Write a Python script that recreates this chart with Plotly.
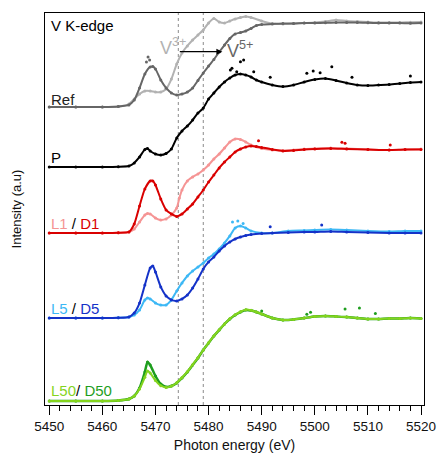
import plotly.graph_objects as go

# ---------------- data (normalised XANES, arbitrary units) ----------------
# Ref: V3+ reference (light grey) and V5+ reference (dark grey)
ref_v3_x = [5450, 5455, 5460, 5463, 5465, 5466, 5467, 5468, 5469, 5470, 5471, 5472, 5473, 5474, 5475,
            5476, 5477, 5478, 5479, 5480, 5481, 5482, 5483, 5484, 5485, 5486, 5487, 5488, 5490, 5492,
            5494, 5496, 5498, 5500, 5502, 5504, 5506, 5508, 5510, 5512, 5514, 5516, 5518, 5520]
ref_v3_y = [0.0, 0.0, 0.0, 0.006, 0.035, 0.094, 0.153, 0.188, 0.188, 0.176, 0.176, 0.212, 0.329, 0.506, 0.635,
            0.718, 0.788, 0.847, 0.906, 0.988, 1.041, 1.0, 0.988, 1.012, 1.035, 1.053, 1.065, 1.053, 1.012, 0.982,
            0.976, 0.982, 0.988, 0.994, 1.006, 1.024, 1.012, 1.006, 1.0, 0.994, 0.994, 0.994, 0.998, 1.0]

ref_v5_x = [5450, 5455, 5460, 5463, 5465, 5466, 5467, 5468, 5469, 5469.5, 5470, 5471, 5472, 5473, 5474,
            5475, 5476, 5477, 5478, 5479, 5480, 5481, 5482, 5483, 5484, 5485, 5486, 5487, 5488, 5489,
            5490, 5492, 5494, 5496, 5498, 5500, 5502, 5504, 5506, 5508, 5510, 5512, 5514, 5516, 5518, 5520]
ref_v5_y = [0.0, 0.0, 0.0, 0.006, 0.024, 0.082, 0.224, 0.388, 0.471, 0.476, 0.447, 0.318, 0.224, 0.165, 0.141,
            0.153, 0.176, 0.224, 0.312, 0.4, 0.482, 0.559, 0.647, 0.729, 0.806, 0.859, 0.876, 0.894, 0.924, 0.959,
            0.971, 0.976, 0.982, 0.982, 0.988, 0.988, 0.991, 0.994, 0.994, 0.994, 0.991, 0.988, 0.988, 0.988, 0.985, 0.988]
ref_v5_out_x = [5468.3, 5468.6, 5468.9]
ref_v5_out_y = [0.53, 0.588, 0.553]

# P (pristine)
p_x = [5450, 5455, 5460, 5463, 5465, 5466, 5467, 5468, 5468.5, 5469, 5470, 5471, 5472, 5473, 5474,
       5475, 5476, 5477, 5478, 5479, 5480, 5481, 5482, 5483, 5484, 5485, 5486, 5487, 5488, 5489,
       5490, 5492, 5494, 5496, 5498, 5500, 5502, 5504, 5506, 5508, 5510, 5512, 5514, 5516, 5518, 5520]
p_y = [0.0, 0.0, 0.0, 0.003, 0.012, 0.047, 0.118, 0.206, 0.218, 0.188, 0.153, 0.141, 0.159, 0.212, 0.341,
       0.424, 0.482, 0.553, 0.635, 0.694, 0.8, 0.871, 0.941, 1.0, 1.047, 1.082, 1.094, 1.082, 1.059, 1.024,
       1.0, 0.965, 0.947, 0.965, 1.0, 1.029, 1.041, 1.018, 0.988, 0.965, 0.959, 0.965, 0.971, 0.982, 0.994, 1.0]
p_out_x = [5484.1, 5484.4, 5485.3, 5486.0, 5486.6, 5488.5, 5491.6, 5498.5, 5499.7, 5501.0, 5503.2, 5507.0, 5518.0]
p_out_y = [1.141, 1.161, 1.121, 1.239, 1.259, 1.121, 1.055, 1.102, 1.129, 1.109, 1.18, 1.055, 1.071]

# L1 / D1
l1_x = [5450, 5455, 5460, 5463, 5465, 5466, 5467, 5468, 5468.5, 5469, 5470, 5471, 5472, 5473, 5474,
        5474.5, 5475, 5476, 5477, 5478, 5479, 5480, 5481, 5482, 5483, 5484, 5485, 5486, 5487, 5488,
        5490, 5492, 5494, 5496, 5498, 5500, 5503, 5506, 5510, 5514, 5517, 5520]
l1_y = [0.0, 0.0, 0.0, 0.003, 0.012, 0.047, 0.129, 0.212, 0.229, 0.224, 0.176, 0.153, 0.165, 0.212, 0.294,
        0.41, 0.506, 0.612, 0.659, 0.694, 0.741, 0.8, 0.871, 0.929, 1.0, 1.071, 1.106, 1.1, 1.071, 1.035,
        0.994, 0.976, 0.971, 0.976, 0.988, 0.994, 1.0, 0.994, 0.982, 0.976, 0.982, 0.988]
d1_x = [5450, 5455, 5460, 5463, 5465, 5466, 5467, 5468, 5469, 5469.5, 5470, 5471, 5472, 5473, 5474,
        5475, 5476, 5477, 5478, 5479, 5480, 5481, 5482, 5483, 5484, 5485, 5486, 5487, 5488, 5489,
        5490, 5492, 5494, 5496, 5498, 5500, 5503, 5506, 5510, 5514, 5517, 5520]
d1_y = [0.0, 0.0, 0.0, 0.003, 0.012, 0.106, 0.318, 0.518, 0.612, 0.612, 0.565, 0.4, 0.271, 0.224, 0.194,
        0.224, 0.282, 0.341, 0.424, 0.506, 0.6, 0.682, 0.765, 0.835, 0.894, 0.953, 0.988, 1.012, 1.024, 1.018,
        1.006, 0.982, 0.965, 0.971, 0.982, 0.988, 0.994, 0.988, 0.982, 0.976, 0.982, 0.982]
d1_out_x = [5489.4, 5505.1, 5505.7, 5514.2]
d1_out_y = [1.086, 1.067, 1.055, 1.035]

# L5 / D5
l5_x = [5450, 5455, 5460, 5463, 5465, 5466, 5467, 5468, 5468.5, 5469, 5470, 5471, 5472, 5473, 5474,
        5475, 5476, 5477, 5478, 5479, 5480, 5481, 5482, 5483, 5484, 5485, 5486, 5487, 5488, 5490,
        5492, 5495, 5498, 5500, 5503, 5506, 5510, 5514, 5517, 5520]
l5_y = [0.0, 0.0, 0.0, 0.003, 0.012, 0.035, 0.094, 0.212, 0.235, 0.224, 0.176, 0.153, 0.153, 0.212, 0.318,
        0.412, 0.494, 0.553, 0.6, 0.647, 0.706, 0.753, 0.812, 0.882, 0.965, 1.059, 1.082, 1.059, 1.024, 1.0,
        1.0, 1.024, 1.029, 1.035, 1.041, 1.035, 1.024, 1.018, 1.024, 1.024]
l5_out_x = [5484.5, 5485.5, 5486.5]
l5_out_y = [1.129, 1.14, 1.11]
d5_x = [5450, 5455, 5460, 5463, 5465, 5466, 5467, 5468, 5469, 5469.5, 5470, 5471, 5472, 5473, 5474,
        5475, 5476, 5477, 5478, 5479, 5480, 5481, 5482, 5483, 5484, 5485, 5486, 5487, 5488, 5490,
        5492, 5495, 5498, 5500, 5503, 5506, 5510, 5514, 5517, 5520]
d5_y = [0.0, 0.0, 0.0, 0.003, 0.012, 0.059, 0.176, 0.388, 0.588, 0.612, 0.541, 0.365, 0.259, 0.212, 0.2,
        0.224, 0.27, 0.353, 0.459, 0.576, 0.659, 0.718, 0.788, 0.847, 0.894, 0.929, 0.953, 0.971, 0.982, 0.994,
        1.0, 1.006, 1.012, 1.012, 1.018, 1.012, 1.006, 1.0, 1.0, 1.0]
d5_out_x = [5491.6, 5501.3]
d5_out_y = [1.074, 1.094]

# L50 / D50
l50_x = [5450, 5455, 5460, 5463, 5465, 5466, 5467, 5468, 5468.5, 5469, 5470, 5471, 5472, 5473, 5474,
         5475, 5476, 5477, 5478, 5479, 5480, 5481, 5482, 5483, 5484, 5485, 5486, 5487, 5488, 5489,
         5490, 5492, 5494, 5496, 5498, 5500, 5502, 5504, 5506, 5508, 5510, 5512, 5514, 5516, 5518, 5520]
l50_y = [0.0, 0.0, 0.0, 0.006, 0.024, 0.059, 0.141, 0.28, 0.353, 0.33, 0.24, 0.18, 0.16, 0.176, 0.215,
         0.276, 0.345, 0.428, 0.51, 0.6, 0.684, 0.765, 0.838, 0.906, 0.968, 1.015, 1.05, 1.075, 1.068, 1.047,
         1.024, 0.976, 0.953, 0.959, 0.976, 0.994, 1.0, 0.994, 0.988, 0.976, 0.965, 0.965, 0.971, 0.971, 0.976, 0.971]
d50_x = [5450, 5455, 5460, 5463, 5465, 5466, 5467, 5468, 5468.5, 5469, 5470, 5471, 5472, 5473, 5474,
         5475, 5476, 5477, 5478, 5479, 5480, 5481, 5482, 5483, 5484, 5485, 5486, 5487, 5488, 5489,
         5490, 5492, 5494, 5496, 5498, 5500, 5502, 5504, 5506, 5508, 5510, 5512, 5514, 5516, 5518, 5520]
d50_y = [0.0, 0.0, 0.0, 0.006, 0.024, 0.059, 0.153, 0.341, 0.459, 0.424, 0.294, 0.2, 0.165, 0.176, 0.212,
         0.271, 0.341, 0.424, 0.506, 0.6, 0.682, 0.765, 0.835, 0.906, 0.965, 1.012, 1.047, 1.071, 1.065, 1.047,
         1.024, 0.976, 0.953, 0.959, 0.976, 0.994, 1.0, 0.994, 0.988, 0.976, 0.965, 0.965, 0.971, 0.971, 0.976, 0.971]
d50_out_x = [5490.0, 5498.5, 5499.2, 5505.7, 5508.4, 5511.4]
d50_out_y = [1.059, 1.02, 1.044, 1.082, 1.094, 1.029]

x_ticks = [5450, 5460, 5470, 5480, 5490, 5500, 5510, 5520]
edge_marks = [5474.3, 5479.0]

# ---------------- layout constants ----------------
OFF_REF, OFF_P, OFF_1, OFF_5, OFF_50 = 3.506, 2.8, 2.024, 1.024, 0.047
C_V3, C_V5 = "#B2B2B2", "#666666"
C_P = "#000000"
C_L1, C_D1 = "#F59494", "#D90000"
C_L5, C_D5 = "#3DB8F5", "#1432C8"
C_L50, C_D50 = "#84D41E", "#1E9E1E"

fig = go.Figure()


def add_curve(xs, ys, off, color, width=2):
    fig.add_trace(go.Scatter(
        x=xs, y=[v + off for v in ys], mode="lines+markers",
        line=dict(color=color, width=width, shape="spline", smoothing=0.6),
        marker=dict(color=color, size=3), showlegend=False, hoverinfo="skip"))


def add_dots(xs, ys, off, color):
    fig.add_trace(go.Scatter(
        x=xs, y=[v + off for v in ys], mode="markers",
        marker=dict(color=color, size=3), showlegend=False, hoverinfo="skip"))


add_curve(ref_v3_x, ref_v3_y, OFF_REF, C_V3)
add_curve(ref_v5_x, ref_v5_y, OFF_REF, C_V5)
add_dots(ref_v5_out_x, ref_v5_out_y, OFF_REF, C_V5)
add_curve(p_x, p_y, OFF_P, C_P)
add_dots(p_out_x, p_out_y, OFF_P, C_P)
add_curve(l1_x, l1_y, OFF_1, C_L1)
add_curve(d1_x, d1_y, OFF_1, C_D1)
add_dots(d1_out_x, d1_out_y, OFF_1, C_D1)
add_curve(l5_x, l5_y, OFF_5, C_L5)
add_dots(l5_out_x, l5_out_y, OFF_5, C_L5)
add_curve(d5_x, d5_y, OFF_5, C_D5)
add_dots(d5_out_x, d5_out_y, OFF_5, C_D5)
add_curve(d50_x, d50_y, OFF_50, C_D50, width=2.5)
add_dots(d50_out_x, d50_out_y, OFF_50, C_D50)
add_curve(l50_x, l50_y, OFF_50, C_L50, width=2)

for xv in edge_marks:
    fig.add_shape(type="line", x0=xv, x1=xv, y0=0, y1=1, xref="x", yref="paper",
                  line=dict(color="#8A8A8A", width=1, dash="dot"), layer="below")

FONT = "Liberation Sans, Arial, sans-serif"
Y_TOP = 4.612


def ylab(py):
    return (405 - py) / 85.0


ann = [
    dict(x=5449.9, y=ylab(25), text="V K-edge", font=dict(size=15, color="#000")),
    dict(x=5449.9, y=ylab(99), text="Ref", font=dict(size=15, color="#222")),
    dict(x=5449.9, y=ylab(157), text="P", font=dict(size=15, color="#000")),
    dict(x=5449.9, y=ylab(223.5),
         text=f"<span style='color:{C_L1}'>L1</span> / <span style='color:{C_D1}'>D1</span>",
         font=dict(size=15, color="#000")),
    dict(x=5449.9, y=ylab(308),
         text=f"<span style='color:{C_L5}'>L5</span> / <span style='color:{C_D5}'>D5</span>",
         font=dict(size=15, color="#000")),
    dict(x=5449.9, y=ylab(390.5),
         text=f"<span style='color:{C_L50}'>L50</span>/ <span style='color:{C_D50}'>D50</span>",
         font=dict(size=15, color="#000")),
    dict(x=5470.5, y=ylab(46), text="V<sup>3+</sup>", font=dict(size=18, color=C_V3)),
    dict(x=5483.1, y=ylab(49), text="V<sup>5+</sup>", font=dict(size=18, color=C_V5)),
]
annotations = []
for a in ann:
    a.update(xref="x", yref="y", xanchor="left", yanchor="middle", showarrow=False)
    a["font"]["family"] = FONT
    annotations.append(a)

annotations.append(dict(x=5482.6, y=ylab(51.7), ax=5474.3, ay=ylab(51.7), xref="x", yref="y",
                        axref="x", ayref="y", text="", showarrow=True, arrowhead=2,
                        arrowsize=1, arrowwidth=1.2, arrowcolor="#000"))

fig.update_layout(
    width=437, height=461,
    margin=dict(l=45, r=13, t=13, b=56),
    paper_bgcolor="white", plot_bgcolor="white",
    font=dict(family=FONT, size=14, color="#111"),
    annotations=annotations,
    showlegend=False,
)
fig.update_xaxes(
    range=[5449.2, 5520.56], tickvals=x_ticks, ticktext=[str(v) for v in x_ticks],
    ticks="outside", ticklen=9, tickwidth=1.3, tickcolor="#000", automargin=False,
    minor=dict(dtick=2, ticks="outside", ticklen=5, tickwidth=1, tickcolor="#000", showgrid=False),
    showline=True, linecolor="#000", linewidth=1.3, mirror=True, showgrid=False, zeroline=False,
    tickfont=dict(size=13.5, color="#111"),
    title=dict(text="Photon energy (eV)", font=dict(size=14, color="#111"), standoff=6),
)
fig.update_yaxes(
    range=[0, Y_TOP], showticklabels=False, ticks="", showline=True, linecolor="#000",
    linewidth=1.3, mirror=True, showgrid=False, zeroline=False, automargin=False,
    title=dict(text="Intensity (a.u)", font=dict(size=13, color="#111"), standoff=19),
)

# remove the default page margin so the figure sits at the window's top-left corner
fig.write_html("out.html", config={"displayModeBar": False},
               post_script="document.body.style.margin='0';document.body.style.overflow='hidden';")
